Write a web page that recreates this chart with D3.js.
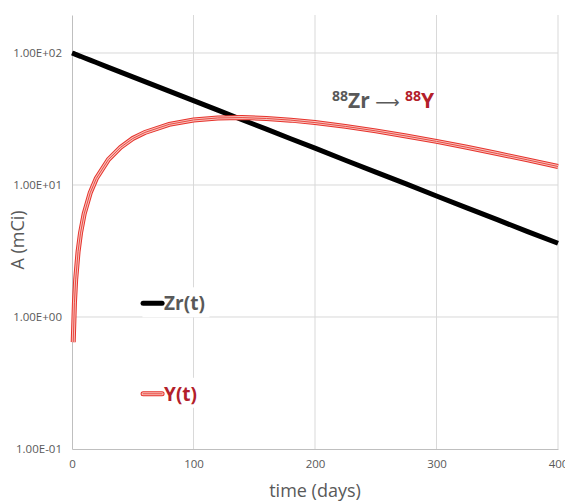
<!DOCTYPE html>
<html>
<head>
<meta charset="utf-8">
<script src="https://cdn.jsdelivr.net/npm/d3@7"></script>
<style>
  body { margin: 0; background: #fff; }
  text { font-family: "Open Sans", sans-serif; }
  .tick text { fill: #595959; font-size: 11.5px; }
  .axisTitle { fill: #595959; font-size: 18px; }
</style>
</head>
<body>
<div id="chart"></div>
<script>
// 88Zr -> 88Y decay chain, activity vs time (log scale)

// time points (days)
var days = [0, 1, 2, 3, 5, 7, 10, 15, 20, 30, 40, 50, 60, 80, 100, 120, 140, 160,
  180, 200, 225, 250, 275, 300, 325, 350, 375, 400];

// parent activity Zr(t), mCi
var zrValues = [100, 99.2, 98.4, 97.5, 95.9, 94.4, 92.0, 88.3, 84.7, 77.9, 71.7, 66.0, 60.7,
  51.4, 43.6, 36.9, 31.2, 26.5, 22.4, 19.0, 15.4, 12.5, 10.2, 8.26, 6.71, 5.46, 4.43, 3.62];

// daughter activity Y(t), mCi (nothing plotted at t = 0)
var yValues = [null, 0.645, 1.28, 1.91, 3.13, 4.32, 6.04, 8.73, 11.2, 15.6, 19.3, 22.5, 25.0,
  28.8, 31.1, 32.2, 32.4, 31.9, 31.0, 29.7, 27.8, 25.7, 23.5, 21.4, 19.3, 17.3, 15.5, 13.8];

var yTicks = [0.1, 1, 10, 100];
var xTicks = [0, 100, 200, 300, 400];

var svgWidth = 565;
var svgHeight = 501;

var margin = { top: 15, right: 7, bottom: 52, left: 72 };
var width = svgWidth - margin.left - margin.right;
var height = svgHeight - margin.top - margin.bottom;

var svg = d3.select("#chart")
  .append("svg")
  .attr("width", svgWidth)
  .attr("height", svgHeight);

var chartGroup = svg.append("g")
  .attr("transform", `translate(${margin.left}, ${margin.top})`);

var xScale = d3.scaleLinear()
  .domain([0, 400])
  .range([0, width]);

var yScale = d3.scaleLog()
  .domain([0.1, 194])
  .range([height, 0]);

// gridlines
chartGroup.append("g")
  .selectAll("line.hgrid")
  .data(yTicks.slice(1))
  .enter()
  .append("line")
  .attr("x1", 0).attr("x2", width)
  .attr("y1", d => yScale(d)).attr("y2", d => yScale(d))
  .attr("stroke", "#d9d9d9")
  .attr("stroke-width", 1);

chartGroup.append("g")
  .selectAll("line.vgrid")
  .data(xTicks.slice(1))
  .enter()
  .append("line")
  .attr("x1", d => xScale(d)).attr("x2", d => xScale(d))
  .attr("y1", 0).attr("y2", height)
  .attr("stroke", "#d9d9d9")
  .attr("stroke-width", 1);

// axes
var bottomAxis = d3.axisBottom(xScale)
  .tickValues(xTicks)
  .tickSize(0)
  .tickPadding(11);

var leftAxis = d3.axisLeft(yScale)
  .tickValues(yTicks)
  .tickSize(0)
  .tickPadding(10)
  .tickFormat(d => d.toExponential(2).toUpperCase().replace(/E([+-])(\d)$/, "E$10$2"));

var xAxisG = chartGroup.append("g")
  .attr("transform", `translate(0, ${height})`)
  .call(bottomAxis);
xAxisG.select(".domain").attr("stroke", "#bfbfbf");

var yAxisG = chartGroup.append("g")
  .call(leftAxis);
yAxisG.select(".domain").attr("stroke", "#bfbfbf");

// legend boxes (white, they hide the gridline)
var legend = [
  { label: "Zr(t)", y: 1.27, color: "#595959" },
  { label: "Y(t)", y: 0.262, color: "#b3202a" }
];

chartGroup.selectAll("rect.legendBox")
  .data(legend)
  .enter()
  .append("rect")
  .attr("x", xScale(58))
  .attr("y", d => yScale(d.y) - 16)
  .attr("width", 67)
  .attr("height", 30)
  .attr("fill", "#fff");

// lines
var line = d3.line()
  .defined(d => d[1] != null)
  .x(d => xScale(d[0]))
  .y(d => yScale(d[1]));

var zrData = days.map((t, i) => [t, zrValues[i]]);
var yData = days.map((t, i) => [t, yValues[i]]);

chartGroup.append("path")
  .datum(zrData)
  .attr("d", line)
  .attr("fill", "none")
  .attr("stroke", "#000")
  .attr("stroke-width", 5);

// Y(t) drawn as a compound red line
[["#e6322b", 5], ["#f8c3be", 3], ["#ea4a42", 1]].forEach(function(s) {
  chartGroup.append("path")
    .datum(yData)
    .attr("d", line)
    .attr("fill", "none")
    .attr("stroke", s[0])
    .attr("stroke-width", s[1]);
});

// legend entries
var legendG = chartGroup.selectAll("g.legendEntry")
  .data(legend)
  .enter()
  .append("g")
  .attr("transform", d => `translate(${xScale(58.5)}, ${yScale(d.y)})`);

legendG.each(function(d, i) {
  var g = d3.select(this);
  if (i === 0) {
    g.append("line")
      .attr("x1", 0).attr("x2", 19)
      .attr("stroke", "#000").attr("stroke-width", 5)
      .attr("stroke-linecap", "round");
  } else {
    [["#e6322b", 5], ["#f8c3be", 3], ["#ea4a42", 1]].forEach(function(s) {
      g.append("line")
        .attr("x1", 0).attr("x2", 19)
        .attr("stroke", s[0]).attr("stroke-width", s[1])
        .attr("stroke-linecap", "round");
    });
  }
  g.append("text")
    .attr("x", 21)
    .attr("dy", "0.36em")
    .attr("fill", d.color)
    .style("font-size", "19px")
    .style("font-weight", "bold")
    .text(d.label);
});

// annotation 88Zr -> 88Y
var note = chartGroup.append("text")
  .attr("x", xScale(214))
  .attr("y", yScale(33.5) - 8)
  .style("font-weight", "bold");
note.append("tspan").attr("fill", "#595959").style("font-size", "14px").attr("dy", -7).text("88");
note.append("tspan").attr("fill", "#595959").style("font-size", "21px").attr("dy", 7).text("Zr ");
note.append("tspan").attr("fill", "#595959").style("font-size", "17px").style("font-weight", "normal")
  .style("font-family", "DejaVu Sans").text("\u27F6 ");
note.append("tspan").attr("fill", "#b3202a").style("font-size", "14px").attr("dy", -7).text("88");
note.append("tspan").attr("fill", "#b3202a").style("font-size", "21px").attr("dy", 7).text("Y");

// axis titles
chartGroup.append("text")
  .attr("class", "axisTitle")
  .attr("text-anchor", "middle")
  .attr("x", width / 2)
  .attr("y", height + 48)
  .text("time (days)");

chartGroup.append("text")
  .attr("class", "axisTitle")
  .attr("text-anchor", "middle")
  .attr("transform", `translate(${-48}, ${225}) rotate(-90)`)
  .text("A (mCi)");
</script>
</body>
</html>
